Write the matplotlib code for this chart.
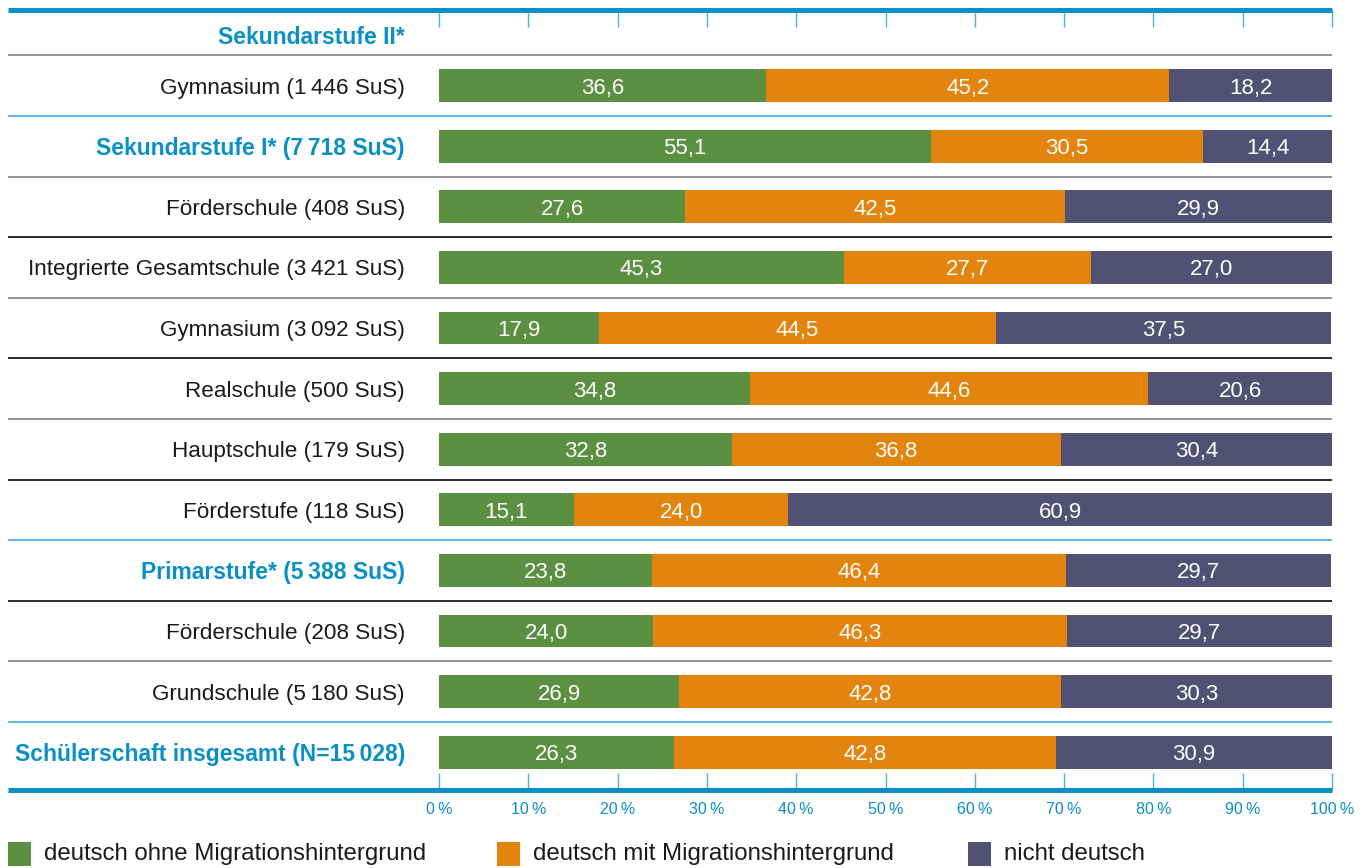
import matplotlib.pyplot as plt
from matplotlib.patches import Rectangle
from matplotlib.transforms import blended_transform_factory

plt.rcParams['font.family'] = ['Liberation Sans', 'DejaVu Sans']

# rows from top to bottom
labels = [
    "Sekundarstufe II*",
    "Gymnasium (1\u2009446 SuS)",
    "Sekundarstufe I* (7\u2009718 SuS)",
    "Förderschule (408 SuS)",
    "Integrierte Gesamtschule (3\u2009421 SuS)",
    "Gymnasium (3\u2009092 SuS)",
    "Realschule (500 SuS)",
    "Hauptschule (179 SuS)",
    "Förderstufe (118 SuS)",
    "Primarstufe* (5\u2009388 SuS)",
    "Förderschule (208 SuS)",
    "Grundschule (5\u2009180 SuS)",
    "Schülerschaft insgesamt (N=15\u2009028)",
]
bold_rows = [0, 2, 9, 12]
ohne_mig = [None, 36.6, 55.1, 27.6, 45.3, 17.9, 34.8, 32.8, 15.1, 23.8, 24.0, 26.9, 26.3]
mit_mig = [None, 45.2, 30.5, 42.5, 27.7, 44.5, 44.6, 36.8, 24.0, 46.4, 46.3, 42.8, 42.8]
nicht_dt = [None, 18.2, 14.4, 29.9, 27.0, 37.5, 20.6, 30.4, 60.9, 29.7, 29.7, 30.3, 30.9]
series_names = ["deutsch ohne Migrationshintergrund",
                "deutsch mit Migrationshintergrund",
                "nicht deutsch"]
ticks = list(range(0, 101, 10))

green = "#5b8f42"
orange = "#e2840e"
purple = "#525174"
blue = "#0a90c5"
lightblue = "#4fb2dc"

# separator colours between row i and i+1
sep_colors = ["#8a8a8a", lightblue, "#8a8a8a", "#1a1a1a", "#8a8a8a", "#1a1a1a",
              "#8a8a8a", "#1a1a1a", lightblue, "#1a1a1a", "#8a8a8a", lightblue]

W, H = 1367, 868
fig = plt.figure(figsize=(W / 100, H / 100), dpi=100)
x0, x1 = 439, 1332
y_top, y_bot = 10, 790
ax = fig.add_axes([x0 / W, 1 - y_bot / H, (x1 - x0) / W, (y_bot - y_top) / H])

row_px = 60.6
ax.set_xlim(0, 100)
ax.set_ylim((y_bot - 25) / row_px, (y_top - 25) / row_px)

bar_h = 0.54
for i in range(len(labels)):
    if ohne_mig[i] is None:
        continue
    left = 0
    for val, col in zip([ohne_mig[i], mit_mig[i], nicht_dt[i]], [green, orange, purple]):
        ax.barh(i, val, left=left, height=bar_h, color=col, linewidth=0)
        ax.text(left + val / 2, i, f"{val:.1f}".replace(".", ","), ha="center",
                va="center_baseline", color="white", fontsize=16)
        left += val

# row labels
tr = blended_transform_factory(ax.transAxes, ax.transData)
lab_x = (405 - x0) / (x1 - x0)
for i, lab in enumerate(labels):
    y = i
    if i == 0:
        y = (35 - 25) / row_px
    if i in bold_rows:
        ax.text(lab_x, y, lab, transform=tr, ha="right", va="center_baseline",
                fontsize=16.5, fontweight="bold", color=blue)
    else:
        ax.text(lab_x, y, lab, transform=tr, ha="right", va="center_baseline",
                fontsize=16.2, color="#1a1a1a")

# separators
left_frac = (8 - x0) / (x1 - x0)
for i, c in enumerate(sep_colors):
    ax.plot([left_frac, 1], [i + 0.5, i + 0.5], transform=tr, color=c, lw=1.3,
            clip_on=False, solid_capstyle="butt")

# thick top and bottom rules
for yy in [0, 1]:
    ax.plot([left_frac, 1], [yy, yy], transform=ax.transAxes, color=blue, lw=3.6,
            clip_on=False, solid_capstyle="butt")

for s in ax.spines.values():
    s.set_visible(False)
ax.set_yticks([])
ax.set_xticks(ticks)
ax.set_xticklabels([f"{t}\u2009%" for t in ticks])
ax.tick_params(axis="x", direction="in", length=12, width=1.0, color=lightblue,
               top=True, bottom=True, labelcolor=blue, labelsize=11.5, pad=9)

# legend
leg_x = [8, 497, 968]
for lx, col, name in zip(leg_x, [green, orange, purple], series_names):
    fig.patches.append(Rectangle((lx / W, 1 - 866 / H), 23 / W, 24 / H,
                                 transform=fig.transFigure, color=col, lw=0))
    fig.text((lx + 36) / W, 1 - 854 / H, name, ha="left", va="center",
             fontsize=17.3, color="#1a1a1a")

fig.savefig("out.png", dpi=100)
